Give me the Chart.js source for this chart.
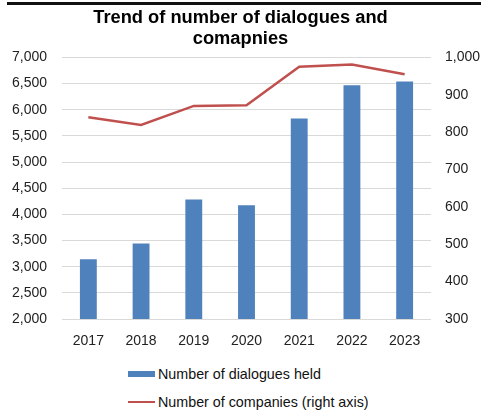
<!DOCTYPE html>
<html>
<head>
<meta charset="utf-8">
<script src="https://cdn.jsdelivr.net/npm/chart.js@4/dist/chart.umd.min.js"></script>
<style>
  html, body { margin: 0; padding: 0; background: #fff; }
  body { width: 481px; height: 412px; position: relative; overflow: hidden; font-family: "Liberation Sans", Arial, sans-serif; }
  .top-rule { position: absolute; left: 7px; top: 2px; width: 474px; height: 3px; background: #111; }
  #wrap { position: absolute; left: 0; top: 0; width: 481px; height: 350px; }
  #legend { position: absolute; left: 128px; top: 364px; }
  .legend-item { display: flex; align-items: center; height: 20px; margin-bottom: 8px; font-size: 14.3px; color: #111; }
  .legend-swatch { width: 27px; margin-right: 3px; }
</style>
</head>
<body>
<div class="top-rule"></div>
<div id="wrap"><canvas id="trendChart" width="481" height="350"></canvas></div>
<div id="legend"></div>

<script>
// Dados do gráfico
const years = ['2017', '2018', '2019', '2020', '2021', '2022', '2023'];
const dialogues = [3140, 3445, 4285, 4175, 5830, 6465, 6540];
const companies = [840, 819, 870, 872, 975, 981, 955];
const leftTicks = [2000, 7000, 500];   // min, max, passo
const rightTicks = [300, 1000, 100];

const blue = '#4f81bd';
const red = '#c0504d';

const fmt = v => v.toLocaleString('en-US');

const chart = new Chart(document.getElementById('trendChart'), {
    type: 'bar',
    data: {
        labels: years,
        datasets: [
            {
                type: 'bar',
                label: 'Number of dialogues held',
                data: dialogues,
                backgroundColor: blue,
                yAxisID: 'y',
                categoryPercentage: 1,
                barPercentage: 0.32,
                order: 2
            },
            {
                type: 'line',
                label: 'Number of companies (right axis)',
                data: companies,
                borderColor: red,
                borderWidth: 2.5,
                pointRadius: 0,
                tension: 0,
                yAxisID: 'y1',
                order: 1
            }
        ]
    },
    options: {
        responsive: false,
        animation: false,
        layout: { padding: { left: 0, right: 0, top: 0, bottom: 0 } },
        plugins: {
            legend: { display: false },
            tooltip: { enabled: false },
            title: {
                display: true,
                text: ['Trend of number of dialogues and', 'comapnies'],
                color: '#000',
                font: { family: '"Liberation Sans", Arial, sans-serif', size: 18.3, weight: 'bold', lineHeight: 1.13 },
                padding: { top: 8, bottom: 8 }
            }
        },
        scales: {
            x: {
                grid: { display: false },
                border: { display: false },
                ticks: { color: '#222', padding: 6, font: { family: '"Liberation Sans", Arial, sans-serif', size: 14 } },
                afterFit: s => { s.height = 31; }
            },
            y: {
                position: 'left',
                min: leftTicks[0],
                max: leftTicks[1],
                ticks: {
                    stepSize: leftTicks[2],
                    padding: 15,
                    color: '#222',
                    font: { family: '"Liberation Sans", Arial, sans-serif', size: 14 },
                    callback: v => fmt(v)
                },
                grid: { color: '#d9d9d9', drawTicks: false },
                border: { display: false },
                afterFit: s => { s.width = 62; }
            },
            y1: {
                position: 'right',
                min: rightTicks[0],
                max: rightTicks[1],
                ticks: {
                    stepSize: rightTicks[2],
                    padding: 14,
                    color: '#222',
                    font: { family: '"Liberation Sans", Arial, sans-serif', size: 14 },
                    callback: v => fmt(v)
                },
                grid: { display: false, drawTicks: false },
                border: { display: false },
                afterFit: s => { s.width = 50; }
            }
        }
    }
});

// Legenda vertical em HTML, montada a partir dos datasets
const legend = document.getElementById('legend');
chart.data.datasets.forEach(ds => {
    const item = document.createElement('div');
    item.className = 'legend-item';
    const sw = document.createElement('span');
    sw.className = 'legend-swatch';
    if (ds.type === 'bar') {
        sw.style.height = '6px';
        sw.style.background = ds.backgroundColor;
    } else {
        sw.style.height = '2.5px';
        sw.style.background = ds.borderColor;
    }
    const txt = document.createElement('span');
    txt.innerText = ds.label;
    item.appendChild(sw);
    item.appendChild(txt);
    legend.appendChild(item);
});
</script>
</body>
</html>
